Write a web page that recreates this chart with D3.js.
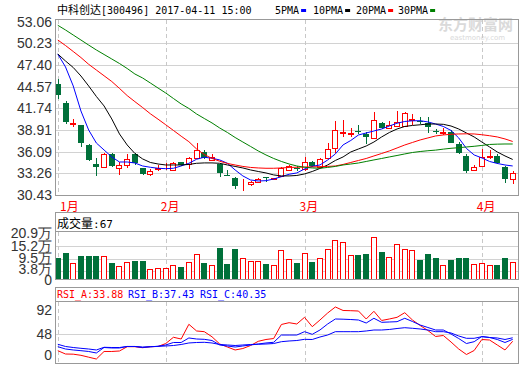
<!DOCTYPE html>
<meta charset="utf-8">
<style>
    body { margin: 0; background: #fff; }
    .axis text { font: 14px "Liberation Sans Narrow", "Liberation Sans", Arial, sans-serif; fill: #333; }
    .mono { font-family: "DejaVu Sans Mono", monospace; font-size: 10px; }
    .cjk { font-family: "Noto Sans CJK SC", sans-serif; }
    .frame { fill: none; stroke: #999; shape-rendering: crispEdges; }
    .grid { stroke: #d2d2d2; shape-rendering: crispEdges; }
    .vgrid { stroke: #c8c8c8; stroke-dasharray: 4,3; shape-rendering: crispEdges; }
    .ma, .rsi { fill: none; stroke-width: 1; }
</style>
<body>
<script src="https://cdn.jsdelivr.net/npm/d3@7"></script>
<script>
    // daily candles, 中科创达 300496
    var opens  = [44.93,42.49,39.76,39.57,36.96,34.48,34.05,35.79,33.92,34.31,35.75,33.92,33.14,33.88,33.97,33.70,34.78,34.44,35.23,36.09,
                  35.01,34.44,33.10,32.70,31.70,31.87,32.09,32.78,32.58,32.92,33.70,33.95,33.83,34.78,34.05,35.31,36.53,38.55,38.45,38.82,
                  38.36,37.84,39.88,39.14,39.45,39.45,40.25,40.14,39.88,38.73,38.52,38.70,37.06,35.53,33.70,34.26,35.40,35.53,34.05,32.49];
    var highs  = [45.54,42.71,40.32,39.62,37.05,35.23,35.88,35.96,34.78,35.83,35.90,33.96,33.87,34.35,34.57,34.70,34.80,35.36,37.19,36.30,
                  35.75,34.57,33.70,32.82,32.51,32.25,32.60,32.82,32.65,34.13,34.35,34.22,35.44,34.90,35.20,37.19,40.10,40.23,39.14,39.54,
                  38.70,41.31,39.94,40.10,41.40,41.31,41.01,40.58,40.66,39.05,39.22,38.92,37.39,35.75,34.30,36.40,36.31,35.75,34.22,33.57];
    var lows   = [43.01,39.67,39.35,36.74,34.87,32.96,34.00,34.13,33.05,33.92,34.40,33.10,32.96,33.61,33.70,33.60,34.25,33.83,35.14,35.14,
                  34.87,32.82,32.96,31.18,30.96,31.66,31.96,32.09,32.35,32.82,33.60,33.61,33.57,34.13,33.90,35.23,35.88,38.05,38.05,38.40,
                  37.09,37.75,39.00,39.05,39.35,39.35,39.57,39.67,38.57,38.40,38.27,37.19,35.79,33.35,33.60,34.22,35.10,34.48,32.04,31.87];
    var closes = [43.53,39.93,39.82,37.19,35.00,34.05,35.75,34.22,34.31,35.10,34.57,33.18,33.57,33.94,34.02,34.65,34.35,35.27,36.31,35.23,
                  35.44,33.35,33.05,31.61,31.76,32.17,32.52,32.73,32.63,33.92,34.22,33.90,34.78,34.26,35.10,36.40,38.88,38.70,38.52,38.76,
                  38.05,40.19,39.14,39.57,39.97,41.18,40.36,40.06,39.35,38.67,38.60,37.26,35.88,33.61,34.13,35.36,35.47,34.57,32.49,33.27];

    // volume, 万
    var volumes = [9.9,12.1,7.7,10.8,10.8,10.8,10.7,7.7,6.2,8.0,8.6,8.6,4.9,5.3,5.3,6.7,5.8,8.0,11.6,7.6,
                   6.7,14.4,7.1,13.9,9.8,8.6,8.6,7.1,6.5,13.3,9.3,7.6,12.0,8.0,9.8,13.8,17.8,16.9,11.1,11.1,
                   11.6,19.1,12.6,10.2,16.0,13.8,13.3,9.0,11.6,9.8,6.7,9.0,9.8,9.8,7.1,7.4,6.7,6.7,9.8,8.0];

    // moving averages
    var ma5  = [48.84,47.15,44.67,41.40,38.92,37.22,36.31,35.40,34.74,34.74,34.61,34.22,34.05,33.92,33.87,33.92,34.22,34.57,35.10,35.36,
                35.23,35.01,34.57,33.70,32.92,32.39,32.26,32.30,32.52,32.82,33.14,33.31,33.83,34.18,34.35,35.00,35.79,36.97,37.55,38.27,
                38.53,38.79,39.05,39.44,39.80,40.03,40.12,40.13,39.97,39.70,39.38,38.86,37.88,36.51,35.66,35.27,34.81,34.55,34.35,34.22];
    var ma10 = [48.84,47.93,47.08,45.97,44.67,43.30,42.06,40.36,38.40,36.96,35.85,35.14,34.68,34.48,34.35,34.35,34.35,34.42,34.57,34.62,
                34.62,34.57,34.35,34.16,33.96,33.70,33.50,33.31,33.05,32.92,32.92,32.98,33.18,33.50,33.90,34.35,34.94,35.40,36.05,36.44,
                36.83,37.35,38.01,38.59,39.05,39.38,39.51,39.60,39.70,39.70,39.66,39.44,39.05,38.53,38.01,37.35,36.70,36.05,35.53,35.07];
    var ma20 = [50.67,49.95,49.17,48.38,47.50,46.75,46.00,45.25,44.35,43.41,42.62,41.85,41.04,40.33,39.60,38.86,38.11,37.39,36.44,35.72,
                35.20,34.84,34.55,34.35,34.16,34.03,33.96,33.92,33.92,33.96,34.03,34.05,34.09,34.09,34.13,34.16,34.22,34.42,34.68,34.94,
                35.20,35.53,35.85,36.18,36.57,36.96,37.29,37.62,37.88,38.14,38.27,38.36,38.40,38.42,38.40,38.30,38.17,38.01,37.75,37.42];
    var ma30 = [52.59,51.98,51.32,50.67,50.01,49.37,48.78,48.19,47.60,46.95,46.23,45.71,45.06,44.40,43.75,43.03,42.32,41.73,41.01,40.42,
                39.84,39.18,38.59,37.94,37.35,36.77,36.18,35.66,35.20,34.81,34.48,34.22,34.05,33.96,33.92,34.03,34.16,34.35,34.48,34.61,
                34.81,35.01,35.20,35.40,35.59,35.79,35.98,36.11,36.21,36.29,36.42,36.53,36.61,36.70,36.79,36.90,37.03,37.07,37.09,37.09];

    var rsiA = [16.4,10.2,9.9,7.8,4.3,0.9,14.9,14.9,15.8,23.8,23.8,21.9,23.8,24.2,29.7,41.3,38.1,65.4,53.0,51.7,
                42.2,28.8,23.2,17.7,20.4,26.0,33.8,37.2,39.0,65.1,68.4,66.0,78.4,61.0,73.4,86.4,97.6,91.1,90.7,90.1,
                75.3,89.6,72.5,75.3,78.4,87.0,73.4,63.2,53.9,42.8,44.6,32.5,19.5,9.3,16.7,37.2,36.2,27.0,17.7,33.88];
    var rsiB = [23.8,19.5,17.7,16.4,14.9,12.1,22.3,21.4,21.4,24.2,24.2,22.3,23.6,24.5,27.0,31.6,31.6,40.0,38.1,37.5,
                35.3,27.0,25.1,23.2,25.1,27.0,28.8,30.7,32.0,45.5,45.5,45.5,51.7,46.8,54.8,66.0,75.3,74.9,74.3,73.4,
                67.8,76.6,69.1,69.7,70.3,76.6,70.6,64.1,59.5,54.8,54.8,47.4,39.0,29.7,33.1,42.8,40.9,37.2,31.6,37.43];
    var rsiC = [28.3,24.2,22.3,20.8,19.5,17.7,22.7,22.3,22.3,24.2,24.2,23.2,23.8,24.5,25.1,26.0,27.9,30.7,31.6,32.0,
                30.7,27.9,27.0,26.0,27.0,27.9,28.3,28.8,29.7,33.1,34.4,35.3,37.5,37.2,41.8,45.5,51.7,51.7,51.7,51.7,
                53.0,54.8,54.8,55.8,57.6,59.1,58.0,56.7,54.8,51.7,51.7,49.3,43.7,39.4,39.4,42.4,40.9,40.0,37.2,40.35];

    var priceTicks = [30.43, 33.26, 36.09, 38.91, 41.74, 44.57, 47.40, 50.23, 53.06];
    var volTicks = [0, 3.8, 9.5, 15.2, 20.9];
    var rsiTicks = [0, 48, 92];
    var monthStarts = [0, 14, 32, 55];
    var monthLabels = ["1月", "2月", "3月", "4月"];
    var maNames = ["5PMA", "10PMA", "20PMA", "30PMA"];
    var maColors = ["#0000ff", "#000000", "#ff0000", "#008000"];

    var up = "#ff0000", down = "#00703a";
    var left = 56, right = 519;

    var svg = d3.select("body").append("svg")
        .attr("width", 520)
        .attr("height", 365);

    var x = d3.scaleLinear().domain([0, closes.length - 1]).range([57.8, 512.7]);
    var yP = d3.scaleLinear().domain([30.43, 53.06]).range([195, 21.7]);
    var yV = d3.scaleLinear().domain([0, 20.9]).range([280, 233]);
    var yR = d3.scaleLinear().domain([0, 92]).range([359.5, 310]);

    function px(v) { return Math.round(v) + 0.5; }

    // watermark
    svg.append("text").attr("class", "cjk")
        .attr("x", 438).attr("y", 30)
        .style("font-size", "15px").style("font-weight", "bold").style("fill", "#dadada")
        .text("东方财富网");
    svg.append("text")
        .attr("x", 450).attr("y", 40)
        .style("font", "7px 'DejaVu Sans', sans-serif").style("fill", "#dadada")
        .text("eastmoney.com");

    // grid lines
    svg.selectAll(".pgrid").data(priceTicks.slice(1, -1)).enter().append("line")
        .attr("class", "grid")
        .attr("x1", left).attr("x2", right)
        .attr("y1", function(d) { return px(yP(d)); })
        .attr("y2", function(d) { return px(yP(d)); });
    svg.selectAll(".vgridh").data(volTicks.slice(1, -1)).enter().append("line")
        .attr("class", "grid")
        .attr("x1", left).attr("x2", right)
        .attr("y1", function(d) { return px(yV(d)); })
        .attr("y2", function(d) { return px(yV(d)); });
    svg.append("line").attr("class", "grid")
        .attr("x1", left).attr("x2", right)
        .attr("y1", px(yR(48))).attr("y2", px(yR(48)));

    var bands = [[20, 196], [232, 280], [302, 364]];
    bands.forEach(function(b) {
        svg.selectAll(null).data(monthStarts).enter().append("line")
            .attr("class", "vgrid")
            .attr("x1", function(d) { return px(x(d)); })
            .attr("x2", function(d) { return px(x(d)); })
            .attr("y1", b[0]).attr("y2", b[1]);
    });

    // candles
    var candles = closes.map(function(c, i) {
        return {i: i, o: opens[i], h: highs[i], l: lows[i], c: c, v: volumes[i]};
    });

    var cg = svg.append("g").selectAll("g").data(candles).enter().append("g")
        .attr("shape-rendering", "crispEdges");

    cg.append("line")
        .attr("x1", function(d) { return px(x(d.i)); })
        .attr("x2", function(d) { return px(x(d.i)); })
        .attr("y1", function(d) { return Math.round(yP(d.h)); })
        .attr("y2", function(d) { return Math.round(yP(d.l)); })
        .attr("stroke", function(d) { return d.c >= d.o ? up : down; });

    cg.append("rect")
        .attr("x", function(d) { return d.c >= d.o ? Math.round(x(d.i)) - 2.5 : Math.round(x(d.i)) - 3; })
        .attr("width", function(d) { return d.c >= d.o ? 5 : 6; })
        .attr("y", function(d) {
            var t = Math.round(yP(Math.max(d.o, d.c)));
            return d.c >= d.o ? t + 0.5 : t;
        })
        .attr("height", function(d) {
            var hgt = Math.round(yP(Math.min(d.o, d.c))) - Math.round(yP(Math.max(d.o, d.c)));
            return d.c >= d.o ? Math.max(hgt, 0) : Math.max(hgt, 1);
        })
        .attr("fill", function(d) { return d.c >= d.o ? "#fff" : down; })
        .attr("stroke", function(d) { return d.c >= d.o ? up : "none"; });

    // moving averages
    [ma5, ma10, ma20, ma30].forEach(function(s, k) {
        svg.append("path").datum(s)
            .attr("class", "ma")
            .attr("stroke", maColors[k])
            .attr("d", d3.line()
                .x(function(d, i) { return x(i); })
                .y(function(d) { return yP(d); }));
    });

    // volume bars
    svg.append("g").selectAll("rect").data(candles).enter().append("rect")
        .attr("shape-rendering", "crispEdges")
        .attr("x", function(d) { return d.c >= d.o ? Math.round(x(d.i)) - 2.5 : Math.round(x(d.i)) - 3; })
        .attr("width", function(d) { return d.c >= d.o ? 5 : 6; })
        .attr("y", function(d) { return Math.round(yV(d.v)) + (d.c >= d.o ? 0.5 : 0); })
        .attr("height", function(d) { return 280 - Math.round(yV(d.v)) - (d.c >= d.o ? 1 : 0); })
        .attr("fill", function(d) { return d.c >= d.o ? "#fff" : down; })
        .attr("stroke", function(d) { return d.c >= d.o ? up : "none"; });

    // RSI lines
    [[rsiA, up], [rsiB, "#0000ff"], [rsiC, "#0000ff"]].forEach(function(s) {
        svg.append("path").datum(s[0])
            .attr("class", "rsi")
            .attr("stroke", s[1])
            .attr("d", d3.line()
                .x(function(d, i) { return x(i); })
                .y(function(d) { return yR(d); }));
    });

    // frames
    [[20, 196], [213, 232], [232, 280], [288, 302], [302, 364]].forEach(function(b) {
        svg.append("rect").attr("class", "frame")
            .attr("x", left - 0.5).attr("y", b[0] - 0.5)
            .attr("width", right - left).attr("height", b[1] - b[0]);
    });

    // axes
    svg.append("g").attr("class", "axis")
        .attr("transform", "translate(" + left + ",0)")
        .call(d3.axisLeft(yP).tickValues(priceTicks).tickSize(0).tickPadding(4)
            .tickFormat(d3.format(".2f")))
        .select(".domain").remove();

    var va = svg.append("g").attr("class", "axis")
        .attr("transform", "translate(" + left + ",0)")
        .call(d3.axisLeft(yV).tickValues(volTicks).tickSize(0).tickPadding(4)
            .tickFormat(function(d) { return d === 0 ? "0" : d + "万"; }));
    va.select(".domain").remove();
    va.selectAll(".tick").filter(function(d) { return d === 3.8; })
        .select("text").attr("y", -2);
    va.selectAll(".tick").filter(function(d) { return d === 9.5; })
        .select("text").attr("y", -1);

    var ra = svg.append("g").attr("class", "axis")
        .attr("transform", "translate(" + left + ",0)")
        .call(d3.axisLeft(yR).tickValues(rsiTicks).tickSize(0).tickPadding(4));
    ra.select(".domain").remove();
    ra.selectAll(".tick").filter(function(d) { return d === 0; })
        .select("text").attr("y", -4);

    // month labels
    svg.selectAll(".month").data(monthStarts).enter().append("text")
        .attr("class", "cjk")
        .attr("x", function(d) { return Math.max(x(d) - 5, 60); })
        .attr("y", 211)
        .style("font-size", "12px").style("fill", up)
        .text(function(d, i) { return monthLabels[i]; });

    // title and legend
    var title = svg.append("text").attr("x", 57).attr("y", 14);
    title.append("tspan").attr("class", "cjk").style("font-size", "11px").text("中科创达");
    title.append("tspan").attr("class", "mono").text("[300496] 2017-04-11 15:00");

    var legX = [275, 313, 356, 398];
    maNames.forEach(function(n, k) {
        var t = svg.append("text").attr("class", "mono")
            .attr("x", legX[k]).attr("y", 14).text(n);
        var w = t.node().getComputedTextLength();
        svg.append("rect")
            .attr("x", legX[k] + w + 2).attr("y", 9)
            .attr("width", 5).attr("height", 3)
            .attr("fill", maColors[k]);
    });

    // volume header
    var vt = svg.append("text").attr("x", 57).attr("y", 228);
    vt.append("tspan").attr("class", "cjk").style("font-size", "12px").text("成交量");
    vt.append("tspan").attr("class", "mono").style("font-size", "11px").text(":67");

    // RSI header
    var rsiHead = [["RSI_A:33.88", up, 57], ["RSI_B:37.43", "#0000ff", 128], ["RSI_C:40.35", "#0000ff", 200]];
    rsiHead.forEach(function(h) {
        svg.append("text").attr("class", "mono")
            .attr("x", h[2]).attr("y", 298)
            .style("fill", h[1])
            .text(h[0]);
    });
</script>
